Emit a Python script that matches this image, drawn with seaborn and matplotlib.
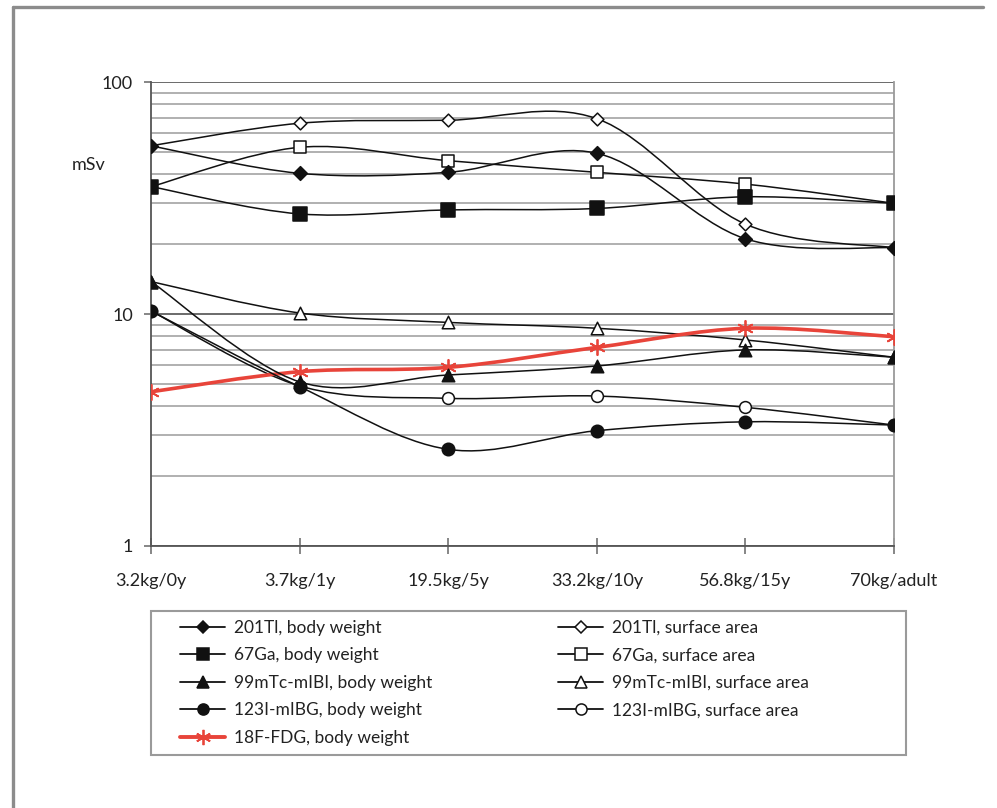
import numpy as np
import matplotlib
matplotlib.use("Agg")
import matplotlib.pyplot as plt
from matplotlib.path import Path
from matplotlib.patches import PathPatch, Rectangle
from matplotlib.lines import Line2D
import seaborn as sns

# Effective dose (mSv) per patient group, read per tracer and scaling rule
categories = ["3.2kg/0y", "3.7kg/1y", "19.5kg/5y", "33.2kg/10y", "56.8kg/15y", "70kg/adult"]
tl_body = [53.1, 40.4, 40.8, 49.3, 21.1, 19.3]
tl_surface = [53.1, 66.4, 68.4, 69.5, 24.4, 19.3]
ga_body = [35.4, 27.0, 28.1, 28.5, 32.0, 30.0]
ga_surface = [35.4, 52.3, 45.8, 40.8, 36.3, 30.0]
mibi_body = [13.8, 5.1, 5.46, 5.97, 7.0, 6.51]
mibi_surface = [13.8, 10.1, 9.2, 8.68, 7.73, 6.51]
mibg_body = [10.3, 4.86, 2.61, 3.14, 3.43, 3.32]
mibg_surface = [10.3, 4.9, 4.33, 4.43, 3.96, 3.32]
fdg_body = [4.62, 5.64, 5.89, 7.18, 8.68, 7.98]

labels_body = ["201Tl, body weight", "67Ga, body weight", "99mTc-mIBI, body weight",
               "123I-mIBG, body weight", "18F-FDG, body weight"]
labels_surface = ["201Tl, surface area", "67Ga, surface area", "99mTc-mIBI, surface area",
                  "123I-mIBG, surface area"]

sns.set_theme(style="white")
plt.rcParams["font.family"] = ["Lato", "DejaVu Sans"]

BLACK = "#111111"
RED = "#e8443a"
TEXT = "#222222"
FS = 13
FS_LEG = 12.5


def smooth_path(xs, ys):
    """Catmull-Rom style Bezier path through the points, built in log-y space."""
    lx = np.asarray(xs, float)
    ly = np.log10(np.asarray(ys, float))
    n = len(lx)
    verts = [(lx[0], ly[0])]
    codes = [Path.MOVETO]
    for i in range(n - 1):
        p0 = i - 1 if i > 0 else i
        p3 = i + 2 if i + 2 < n else i + 1
        c1 = (lx[i] + (lx[i + 1] - lx[p0]) / 6, ly[i] + (ly[i + 1] - ly[p0]) / 6)
        c2 = (lx[i + 1] - (lx[p3] - lx[i]) / 6, ly[i + 1] - (ly[p3] - ly[i]) / 6)
        verts += [c1, c2, (lx[i + 1], ly[i + 1])]
        codes += [Path.CURVE4] * 3
    verts = np.array(verts)
    verts[:, 1] = 10 ** verts[:, 1]
    return Path(verts, codes)


fig = plt.figure(figsize=(9.97, 8.08), dpi=100)
ax = fig.add_axes([151 / 997, 1 - 546 / 808, (894 - 151) / 997, (546 - 82) / 808])
ax.set_yscale("log")
ax.set_ylim(1, 100)
ax.set_xlim(0, len(categories) - 1)
xpos = np.arange(len(categories))

# gridlines
ax.yaxis.set_minor_locator(matplotlib.ticker.LogLocator(base=10, subs=np.arange(2, 10)))
ax.grid(which="minor", axis="y", color="#b0b0b0", lw=1.4, zorder=0)
ax.grid(which="major", axis="y", color="#6a6a6a", lw=1.4, zorder=0)
ax.grid(which="both", axis="x", visible=False)
ax.set_axisbelow(True)

series = [
    # (values, marker, size, filled, color, line width, zorder)
    (tl_surface, "D", 6.5, False, BLACK, 1.1, 3),
    (ga_surface, "s", 9, False, BLACK, 1.1, 3),
    (mibi_surface, "^", 9, False, BLACK, 1.1, 3),
    (mibg_surface, "o", 8.5, False, BLACK, 1.1, 3),
    (fdg_body, (6, 2, 0), 11, False, RED, 2.6, 4),
    (tl_body, "D", 7, True, BLACK, 1.1, 5),
    (ga_body, "s", 9.5, True, BLACK, 1.1, 5),
    (mibi_body, "^", 9, True, BLACK, 1.1, 5),
    (mibg_body, "o", 9, True, BLACK, 1.1, 5),
]

for vals, mk, ms, filled, col, lw, z in series:
    ax.add_patch(PathPatch(smooth_path(xpos, vals), fill=False, edgecolor=col,
                           lw=lw, zorder=z, capstyle="round", joinstyle="round"))
for vals, mk, ms, filled, col, lw, z in series:
    if col == RED:
        sns.scatterplot(x=xpos, y=vals, marker=mk, s=ms ** 2, color=col,
                        edgecolor=col, linewidth=1.3, ax=ax, zorder=z + 0.5)
    else:
        sns.scatterplot(x=xpos, y=vals, marker=mk, s=ms ** 2,
                        color=BLACK if filled else "white", edgecolor=BLACK,
                        linewidth=1.1, ax=ax, zorder=z + 0.5)

# axes styling
ax.spines["top"].set_visible(False)
for side in ["left", "bottom"]:
    ax.spines[side].set_color("#555555")
    ax.spines[side].set_linewidth(1.3)
ax.spines["right"].set_color("#9a9a9a")
ax.spines["right"].set_linewidth(1.3)

ax.set_xticks(xpos)
ax.set_xticklabels(categories, fontsize=FS, color=TEXT)
ax.set_yticks([1, 10, 100])
ax.set_yticklabels(["1", "10", "100"], fontsize=FS, color=TEXT)
ax.tick_params(axis="x", which="major", direction="inout", length=11, width=1.1,
               color="#666666", pad=14, bottom=True)
ax.tick_params(axis="y", which="major", direction="out", length=5, width=1.1,
               color="#666666", pad=8, left=True)
ax.tick_params(axis="y", which="minor", length=0, left=False)
ax.set_xlabel("")
ax.set_ylabel("")
fig.text(89 / 997, 1 - 165 / 808, "mSv", ha="center", va="center",
         fontsize=FS, color=TEXT)

# legend: framed box with two columns
fig.patches.append(Rectangle((151 / 997, 1 - 755 / 808), (906 - 151) / 997, (755 - 611) / 808,
                             transform=fig.transFigure, fill=False, edgecolor="#9a9a9a",
                             lw=1.5, zorder=1))


def handle(mk, ms, filled, col, lw):
    if col == RED:
        return Line2D([], [], color=col, lw=lw, marker=mk, markersize=ms,
                      markeredgecolor=col, markerfacecolor=col, markeredgewidth=1.3)
    return Line2D([], [], color=BLACK, lw=lw, marker=mk, markersize=ms,
                  markerfacecolor=BLACK if filled else "white",
                  markeredgecolor=BLACK, markeredgewidth=1.1)


h_body = [handle("D", 6, True, BLACK, 1.3), handle("s", 8, True, BLACK, 1.3),
          handle("^", 8, True, BLACK, 1.3), handle("o", 8, True, BLACK, 1.3),
          handle((6, 2, 0), 11, False, RED, 2.8)]
h_surf = [handle("D", 6, False, BLACK, 1.3), handle("s", 8, False, BLACK, 1.3),
          handle("^", 8, False, BLACK, 1.3), handle("o", 8, False, BLACK, 1.3)]

leg_kw = dict(frameon=False, loc="upper left", fontsize=FS_LEG, handlelength=2.6,
              handletextpad=0.5, labelspacing=0.66, borderpad=0, borderaxespad=0)
leg1 = fig.legend(h_body, labels_body, bbox_to_anchor=(180 / 997, 1 - 620 / 808), **leg_kw)
leg2 = fig.legend(h_surf, labels_surface, bbox_to_anchor=(558 / 997, 1 - 620 / 808), **leg_kw)
for leg in (leg1, leg2):
    for t in leg.get_texts():
        t.set_color(TEXT)

# outer frame
fig.add_artist(Line2D([13 / 997, 13 / 997], [0, 1 - 7 / 808], transform=fig.transFigure,
                      color="#8c8c8c", lw=2.4))
fig.add_artist(Line2D([13 / 997, 983 / 997], [1 - 7 / 808, 1 - 7 / 808],
                      transform=fig.transFigure, color="#8c8c8c", lw=2.4))

fig.savefig("out.png", dpi=100)
